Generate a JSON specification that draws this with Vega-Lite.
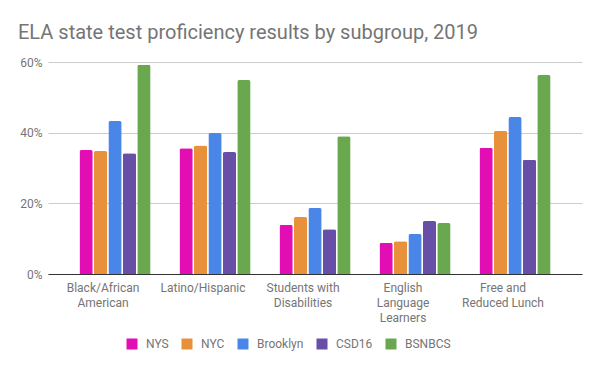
{
  "$schema": "https://vega.github.io/schema/vega-lite/v6.json",
  "autosize": {"type": "none"},
  "width": 534,
  "height": 212,
  "padding": {"left": 48, "top": 62, "right": 18, "bottom": 97},
  "title": {"text": "ELA state test proficiency results by subgroup, 2019", "anchor": "start", "frame": "group", "dx": -30, "font": "Roboto", "fontSize": 20, "fontWeight": "normal", "color": "#757575", "offset": 13},
  "config": {"view": {"stroke": null}, "font": "Roboto"},
  "data": {"values": [
    {"group": "Black/African American", "area": "NYS", "pct": 35.1},
    {"group": "Black/African American", "area": "NYC", "pct": 34.8},
    {"group": "Black/African American", "area": "Brooklyn", "pct": 43.3},
    {"group": "Black/African American", "area": "CSD16", "pct": 34.2},
    {"group": "Black/African American", "area": "BSNBCS", "pct": 59.2},
    {"group": "Latino/Hispanic", "area": "NYS", "pct": 35.6},
    {"group": "Latino/Hispanic", "area": "NYC", "pct": 36.4},
    {"group": "Latino/Hispanic", "area": "Brooklyn", "pct": 39.9},
    {"group": "Latino/Hispanic", "area": "CSD16", "pct": 34.5},
    {"group": "Latino/Hispanic", "area": "BSNBCS", "pct": 54.9},
    {"group": "Students with Disabilities", "area": "NYS", "pct": 13.9},
    {"group": "Students with Disabilities", "area": "NYC", "pct": 16.1},
    {"group": "Students with Disabilities", "area": "Brooklyn", "pct": 18.7},
    {"group": "Students with Disabilities", "area": "CSD16", "pct": 12.7},
    {"group": "Students with Disabilities", "area": "BSNBCS", "pct": 39.0},
    {"group": "English Language Learners", "area": "NYS", "pct": 8.8},
    {"group": "English Language Learners", "area": "NYC", "pct": 9.3},
    {"group": "English Language Learners", "area": "Brooklyn", "pct": 11.3},
    {"group": "English Language Learners", "area": "CSD16", "pct": 15.0},
    {"group": "English Language Learners", "area": "BSNBCS", "pct": 14.4},
    {"group": "Free and Reduced Lunch", "area": "NYS", "pct": 35.7},
    {"group": "Free and Reduced Lunch", "area": "NYC", "pct": 40.5},
    {"group": "Free and Reduced Lunch", "area": "Brooklyn", "pct": 44.4},
    {"group": "Free and Reduced Lunch", "area": "CSD16", "pct": 32.3},
    {"group": "Free and Reduced Lunch", "area": "BSNBCS", "pct": 56.3}
  ]},
  "mark": {"type": "bar", "cornerRadiusTopLeft": 2, "cornerRadiusTopRight": 2},
  "encoding": {
    "x": {
      "field": "group", "type": "nominal", "sort": null,
      "scale": {"paddingInner": 0, "paddingOuter": 0.17},
      "axis": {
        "title": null, "labelAngle": 0, "ticks": false, "domainColor": "#333333",
        "labelFont": "Roboto", "labelFontSize": 12, "labelColor": "#757575",
        "labelPadding": 8, "labelLineHeight": 15, "labelOffset": -12,
        "labelExpr": "datum.value == 'Black/African American' ? ['Black/African', 'American'] : datum.value == 'Students with Disabilities' ? ['Students with', 'Disabilities'] : datum.value == 'English Language Learners' ? ['English', 'Language', 'Learners'] : datum.value == 'Free and Reduced Lunch' ? ['Free and', 'Reduced Lunch'] : datum.value"
      }
    },
    "xOffset": {
      "field": "area", "type": "nominal", "sort": ["NYS", "NYC", "Brooklyn", "CSD16", "BSNBCS"],
      "scale": {"paddingInner": 0.08, "paddingOuter": 1.44}
    },
    "y": {
      "field": "pct", "type": "quantitative",
      "scale": {"domain": [0, 60]},
      "axis": {
        "title": null, "values": [0, 20, 40, 60], "domain": false, "ticks": false,
        "gridColor": "#cccccc", "labelPadding": 6,
        "labelFont": "Roboto", "labelFontSize": 12, "labelColor": "#757575",
        "labelExpr": "datum.value + '%'"
      }
    },
    "color": {
      "field": "area", "type": "nominal",
      "sort": ["NYS", "NYC", "Brooklyn", "CSD16", "BSNBCS"],
      "scale": {"domain": ["NYS", "NYC", "Brooklyn", "CSD16", "BSNBCS"], "range": ["#e20db3", "#e8903a", "#4a86e8", "#674ea7", "#69a84f"]},
      "legend": {
        "title": null, "orient": "none", "legendX": 78, "legendY": 276, "direction": "horizontal",
        "symbolType": "square", "symbolSize": 121, "symbolStrokeWidth": 0, "symbolOpacity": 1,
        "labelFont": "Roboto", "labelFontSize": 12, "labelColor": "#757575",
        "labelOffset": 8, "columnPadding": 12
      }
    }
  }
}
